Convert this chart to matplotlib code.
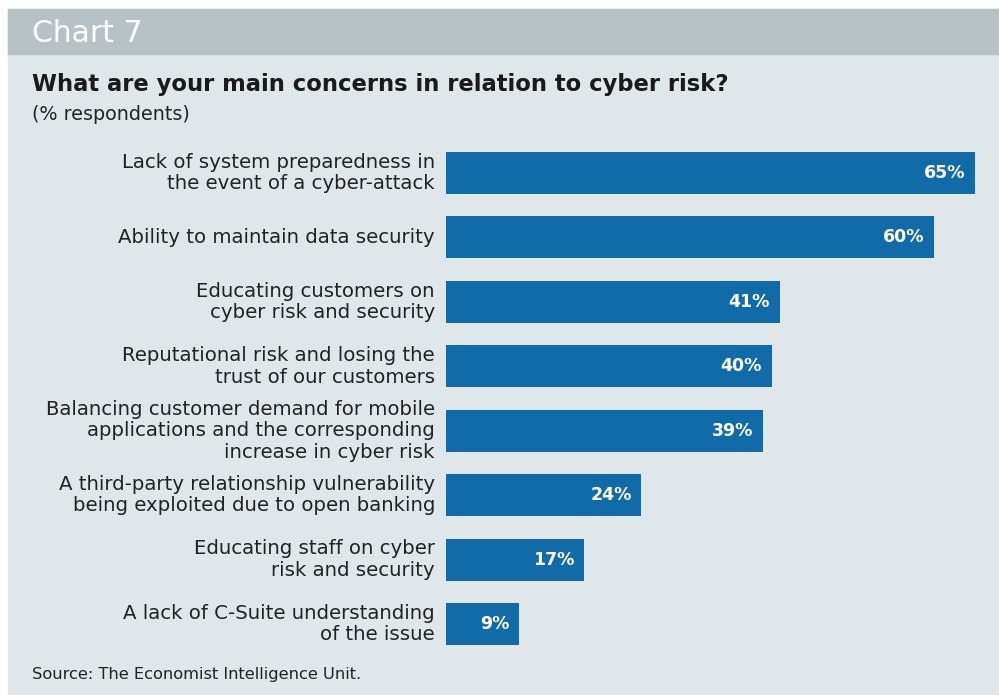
import matplotlib
matplotlib.use("Agg")
import matplotlib.pyplot as plt
from matplotlib.patches import Rectangle

plt.rcParams['font.family'] = ['DejaVu Sans']

labels = [
    "Lack of system preparedness in\nthe event of a cyber-attack",
    "Ability to maintain data security",
    "Educating customers on\ncyber risk and security",
    "Reputational risk and losing the\ntrust of our customers",
    "Balancing customer demand for mobile\napplications and the corresponding\nincrease in cyber risk",
    "A third-party relationship vulnerability\nbeing exploited due to open banking",
    "Educating staff on cyber\nrisk and security",
    "A lack of C-Suite understanding\nof the issue",
]
values = [65, 60, 41, 40, 39, 24, 17, 9]

W, H = 999, 695
fig = plt.figure(figsize=(W / 100, H / 100), dpi=100)
fig.patch.set_facecolor('white')

def px(x0, y0, x1, y1):
    # pixel box (top-left origin) -> figure fraction rect
    return (x0 / W, 1 - y1 / H), (x1 - x0) / W, (y1 - y0) / H

xy, w, h = px(8, 9, 998, 695)
fig.patches.append(Rectangle(xy, w, h, transform=fig.transFigure, color='#e0e7ea', zorder=-2))
xy, w, h = px(8, 9, 998, 54)
fig.patches.append(Rectangle(xy, w, h, transform=fig.transFigure, color='#b7c1c6', zorder=-1))

fig.text(32 / W, 1 - 33 / H, "Chart 7", color='white', fontsize=21.5, va='center', ha='left')
fig.text(32 / W, 1 - 84 / H, "What are your main concerns in relation to cyber risk?", color='#1a1a1a',
         fontsize=16.3, fontweight='bold', va='center', ha='left')
fig.text(32 / W, 1 - 114 / H, "(% respondents)", color='#222222', fontsize=13.8, va='center', ha='left')
fig.text(32 / W, 1 - 674 / H, "Source: The Economist Intelligence Unit.", color='#222222', fontsize=11.7,
         va='center', ha='left')

ax = fig.add_axes([446 / W, 1 - 645 / H, (975 - 446) / W, (645 - 152) / H])
ax.set_facecolor('none')
ypos = list(range(len(values)))
ax.barh(ypos, values, height=0.652, color='#106ba8')
ax.set_xlim(0, 65)
ax.set_ylim(len(values) - 1 + 0.326, -0.326)
ax.axis('off')

for y, v, lab in zip(ypos, values, labels):
    ax.annotate(f"{v}%", (v, y), xytext=(-7, 0), textcoords='offset points', ha='right', va='center',
                color='white', fontsize=12.5, fontweight='bold')
    ax.annotate(lab, (0, y), xytext=(-8, 0), textcoords='offset points', ha='right', va='center',
                color='#222222', fontsize=14.2, linespacing=1.17)

fig.savefig("out.png", dpi=100)
